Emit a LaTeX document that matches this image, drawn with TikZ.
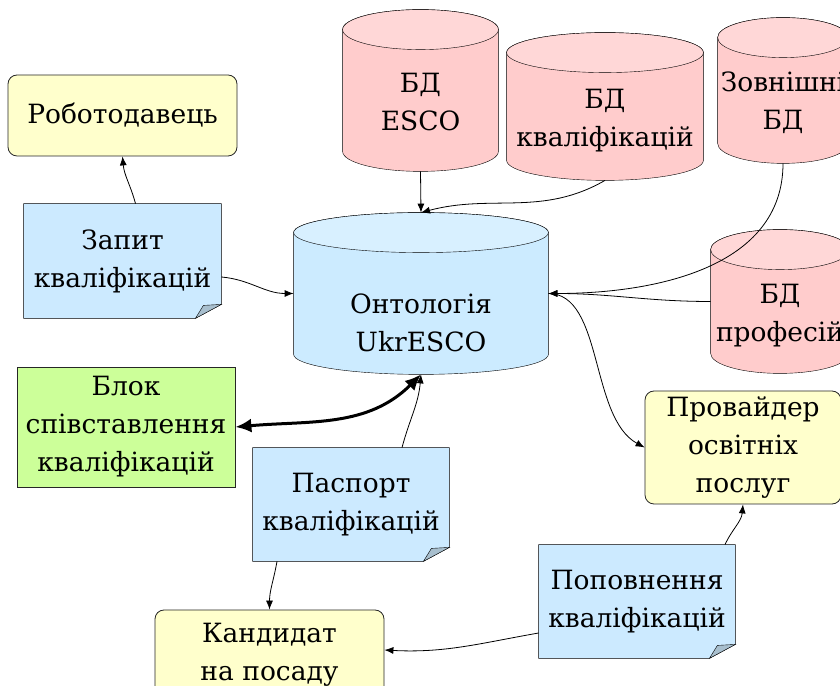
\documentclass[tikz,border=0pt]{standalone}
\usepackage{fontspec}
\setmainfont{DejaVu Serif}
\usetikzlibrary{calc,backgrounds,arrows.meta}

\definecolor{actorfill}{HTML}{FFFFCC}
\definecolor{sheetfill}{HTML}{CCEAFF}
\definecolor{sheetfold}{HTML}{A8BFCE}
\definecolor{dbbody}{HTML}{FFCCCC}
\definecolor{dblid}{HTML}{FFD7D7}
\definecolor{ontobody}{HTML}{CCEBFF}
\definecolor{ontolid}{HTML}{D8F0FF}
\definecolor{matchfill}{HTML}{CCFF99}

% cylinder round a node: name, body colour, lid colour
\newcommand\dbcyl[3]{%
  \draw[fill=#2] let \p1=(#1.north west), \p2=(#1.south east) in
    (\x1,\y1-20pt) -- (\x1,\y2+20pt)
    arc[start angle=180, end angle=360, x radius={(\x2-\x1)/2}, y radius=20pt]
    -- (\x2,\y1-20pt)
    arc[start angle=0, end angle=180, x radius={(\x2-\x1)/2}, y radius=20pt] -- cycle;
  \draw[fill=#3] let \p1=(#1.north west), \p2=(#1.south east) in
    ([yshift=-20pt]#1.north) ellipse[x radius={(\x2-\x1)/2}, y radius=20pt];}
% sheet with a turned-up corner round a node
\newcommand\docsheet[1]{%
  \draw[fill=sheetfill] (#1.north west) -- (#1.north east) -- ([yshift=14pt]#1.south east)
    -- ([xshift=-26pt]#1.south east) -- (#1.south west) -- cycle;
  \draw[fill=sheetfold] ([yshift=14pt]#1.south east) -- ([xshift=-18pt,yshift=13pt]#1.south east)
    -- ([xshift=-26pt]#1.south east) -- cycle;}

\begin{document}
\begin{tikzpicture}[x=1pt, y=1pt, line width=0.8pt, draw=black!85,
    font=\fontsize{26.5}{38}\selectfont, >={Latex[length=9pt,width=7pt]},
    actor/.style={draw, fill=actorfill, rounded corners=9pt, align=center, inner sep=0pt},
    sheet/.style={align=center, inner sep=0pt},
    dbbox/.style={inner sep=0pt},
    dbtext/.style={align=center},
    link/.style={draw=black, ->},
    bigarrow/.style={draw=black, line width=3pt, arrows={Latex[length=16pt,width=14pt]-Latex[length=16pt,width=14pt]}}]
  \useasboundingbox (0,0) rectangle (840,685);
  \clip (0,0) rectangle (840,685);

  % Actors
  \node[actor, minimum width=229pt, minimum height=81pt] (employer) at (122.5,569.5) {Роботодавець};
  \node[actor, minimum width=229pt, minimum height=90pt] (candidate) at (269.5,30) {Кандидат\\на посаду};
  \node[actor, minimum width=196pt, minimum height=113pt] (provider) at (743,237.5) {Провайдер\\освітніх\\послуг};
  \node[draw, fill=matchfill, align=center, inner sep=0pt, minimum width=218pt, minimum height=120pt]
    (matcher) at (126,258) {Блок\\співставлення\\кваліфікацій};

  % Documents
  \node[sheet, minimum width=197pt, minimum height=114pt] (query) at (122.5,424) {Запит\\кваліфікацій};
  \node[sheet, minimum width=196pt, minimum height=113pt] (passport) at (351,180.5) {Паспорт\\кваліфікацій};
  \node[sheet, minimum width=196pt, minimum height=113pt] (topup) at (637,83.5) {Поповнення\\кваліфікацій};

  % Databases
  \node[dbbox, minimum width=155pt, minimum height=161pt,
    label={[dbtext, yshift=-12pt]center:БД\\ESCO}] (escodb) at (420.5,594.5) {};
  \node[dbbox, minimum width=196pt, minimum height=147pt,
    label={[dbtext, yshift=-14pt]center:БД\\кваліфікацій}] (qualdb) at (605,578.5) {};
  \node[dbbox, minimum width=130pt, minimum height=145pt,
    label={[dbtext, yshift=-12pt]center:Зовнішні\\БД}] (extdb) at (783,594.5) {};
  \node[dbbox, minimum width=138pt, minimum height=143pt,
    label={[dbtext, yshift=-14pt]center:БД\\професій}] (profdb) at (780,383.5) {};
  \node[dbbox, minimum width=254pt, minimum height=161pt,
    label={[dbtext, yshift=-29pt]center:Онтологія\\UkrESCO}] (onto) at (421,391.5) {};

  \begin{scope}[on background layer]
    \dbcyl{escodb}{dbbody}{dblid}
    \dbcyl{qualdb}{dbbody}{dblid}
    \dbcyl{extdb}{dbbody}{dblid}
    \dbcyl{profdb}{dbbody}{dblid}
    \dbcyl{onto}{ontobody}{ontolid}
    \docsheet{query}
    \docsheet{passport}
    \docsheet{topup}
  \end{scope}

  % Links
  \draw[link] ([xshift=13pt]query.north) to[out=105, in=-85] (employer.south);
  \draw[link] ([yshift=-16pt]query.east) to[out=-5, in=180] (onto.west);
  \draw[link] (escodb.south) -- (onto.north);
  \draw[link] (qualdb.south) to[out=-150, in=15] (onto.north);
  \draw[link] (extdb.south) to[out=-90, in=0] (onto.east);
  \draw[link] (profdb.west) to[out=180, in=0] (onto.east);
  \draw[link] (onto.east) .. controls +(55,0) and +(-55,30) .. (provider.west);
  \draw[bigarrow] (matcher.east) to[out=5, in=225] (onto.south);
  \draw[link] ([xshift=51pt]passport.north) to[out=75, in=-95] (onto.south);
  \draw[link] ([xshift=-74pt]passport.south) to[out=-100, in=90] (candidate.north);
  \draw[link] ([yshift=-31.5pt]topup.west) to[out=190, in=-3] ([yshift=5pt]candidate.east);
  \draw[link] ([xshift=88pt]topup.north) to[out=65, in=-95] (provider.south);
\end{tikzpicture}
\end{document}
